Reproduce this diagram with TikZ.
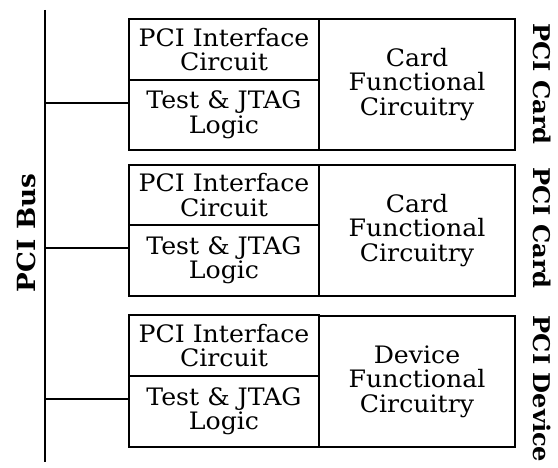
\documentclass[tikz,border=0pt]{standalone}
\usepackage{fontspec}
\setmainfont{DejaVu Serif}[FakeStretch=1.05]
\begin{document}
\begin{tikzpicture}[x=1pt,y=-1pt,
  part/.style={draw, line width=1.3pt, inner sep=0pt, align=center,
    font=\fontsize{24}{24.5}\selectfont},
  leftpart/.style={part, minimum width=190pt},
  funcpart/.style={part, minimum width=196pt, minimum height=131pt},
  bus/.style={line width=2.4pt},
  tap/.style={line width=2pt},
  side/.style={font=\bfseries\fontsize{23}{24}\selectfont, inner sep=0pt}]
\useasboundingbox (0,0) rectangle (558,468);
% bus
\coordinate (bustop) at (45,10);
\coordinate (busbot) at (45,462);
\draw[bus] (bustop) -- (busbot);
\node[side, font=\bfseries\fontsize{25}{26}\selectfont, rotate=90] (buslabel) at (26,233) {PCI Bus};
% block 1
\node[leftpart, minimum height=61pt] (pci1) at (224,49.5) {PCI Interface\\Circuit};
\node[leftpart, minimum height=70pt] (test1) at (224,115) {Test \& JTAG\\Logic};
\node[funcpart] (func1) at (417,84.5) {Card\\Functional\\Circuitry};
\node[side, rotate=-90] (lab1) at (542,84) {PCI Card};
\coordinate (t1) at (45,103);
\draw[tap] (t1) -- (t1 -| test1.west);
% block 2
\node[leftpart, minimum height=60pt] (pci2) at (224,195) {PCI Interface\\Circuit};
\node[leftpart, minimum height=71pt] (test2) at (224,260.5) {Test \& JTAG\\Logic};
\node[funcpart] (func2) at (417,230.5) {Card\\Functional\\Circuitry};
\node[side, rotate=-90] (lab2) at (542,228) {PCI Card};
\coordinate (t2) at (45,248);
\draw[tap] (t2) -- (t2 -| test2.west);
% block 3
\node[leftpart, minimum height=61pt] (pci3) at (224,345.5) {PCI Interface\\Circuit};
\node[leftpart, minimum height=71pt] (test3) at (224,411.5) {Test \& JTAG\\Logic};
\node[funcpart] (func3) at (417,381.5) {Device\\Functional\\Circuitry};
\node[side, rotate=-90] (lab3) at (542,389) {PCI Device};
\coordinate (t3) at (45,399);
\draw[tap] (t3) -- (t3 -| test3.west);
\end{tikzpicture}
\end{document}
